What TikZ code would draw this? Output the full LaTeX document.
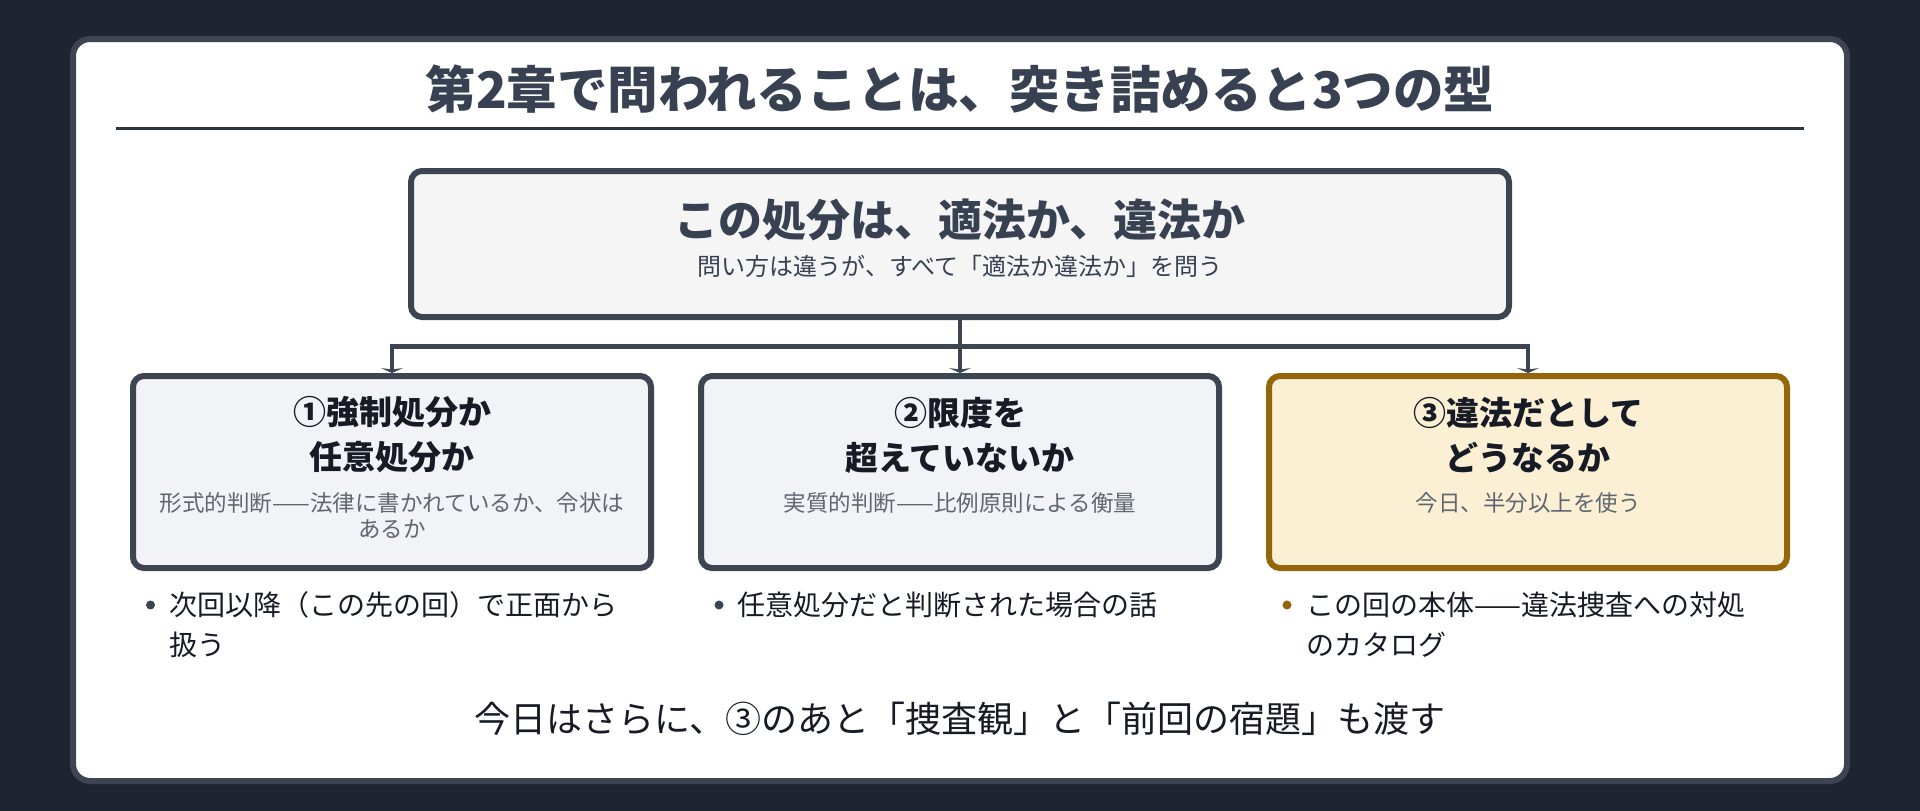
\documentclass[tikz,border=0pt]{standalone}
\usepackage{fontspec}
\setmainfont{Noto Sans CJK JP}
\usepackage{xcolor}
\usetikzlibrary{arrows.meta}
\definecolor{pagebg}{HTML}{1E2530}
\definecolor{edge}{HTML}{3D4553}
\definecolor{ink}{HTML}{374151}
\definecolor{darkink}{HTML}{161B26}
\definecolor{softink}{HTML}{5F6670}
\definecolor{qfill}{HTML}{F5F5F5}
\definecolor{bfill}{HTML}{F1F3F6}
\definecolor{hfill}{HTML}{FBEFD4}
\definecolor{hedge}{HTML}{956509}
\tikzset{box/.style={draw=edge,line width=6pt,rounded corners=11pt,fill=bfill,
           minimum width=518pt,minimum height=192pt,inner sep=0pt},
         head/.style={text=darkink,font=\bfseries\fontsize{33}{45}\selectfont,align=center,inner sep=0pt},
         sub/.style={text=softink,font=\fontsize{22.5}{26}\selectfont,align=center,inner sep=0pt},
         note/.style={text=darkink,font=\fontsize{28}{40}\selectfont,align=left,anchor=west,inner sep=0pt},
         dot/.style={circle,fill=edge,inner sep=0pt,minimum size=9pt},
         link/.style={draw=edge,line width=4.5pt}}

\begin{document}
\begin{tikzpicture}[x=1pt,y=-1pt]
\fill[pagebg] (0,0) rectangle (1920,811);
\draw[edge,line width=6pt,fill=white,rounded corners=17pt] (73,39) rectangle (1847,781);
\node[text=ink,font=\bfseries\fontsize{50.5}{60}\selectfont] (title) at (960,89) {第2章で問われることは、突き詰めると3つの型};
\draw[edge!80!black,line width=3pt] (116,128.5) -- (1804,128.5);

\node[box,fill=qfill,minimum width=1098pt,minimum height=146pt] (q) at (960,244) {};
\node[text=ink,font=\bfseries\fontsize{44}{50}\selectfont] (qhead) at (960,220) {この処分は、適法か、違法か};
\node[sub,text=ink,font=\fontsize{24}{30}\selectfont] (qsub) at (960,266) {問い方は違うが、すべて「適法か違法か」を問う};

\node[box] (b1) at (392,472) {};
\node[box] (b2) at (960,472) {};
\node[box,draw=hedge,fill=hfill] (b3) at (1528,472) {};

\coordinate (split) at (960,346.5);
\draw[link] (q.south) -- (split);
\draw[link,-{Stealth[length=5pt,width=22pt]}] (split) -| (b1.north);
\draw[link,-{Stealth[length=5pt,width=22pt]}] (split) -- (b2.north);
\draw[link,-{Stealth[length=5pt,width=22pt]}] (split) -| (b3.north);

\node[head] (h1) at (392,435) {①強制処分か\\任意処分か};
\node[head] (h2) at (960,435) {②限度を\\超えていないか};
\node[head] (h3) at (1528,435) {③違法だとして\\どうなるか};
\node[sub] (s1) at (392,516) {形式的判断——法律に書かれているか、令状は\\あるか};
\node[sub] (s2) at (960,503) {実質的判断——比例原則による衡量};
\node[sub] (s3) at (1528,503) {今日、半分以上を使う};

\node[dot] (d1) at (150.5,605) {};
\node[note] (n1) at (169,625) {次回以降（この先の回）で正面から\\扱う};
\node[dot] (d2) at (719,605) {};
\node[note] (n2) at (737,605) {任意処分だと判断された場合の話};
\node[dot,fill=hedge] (d3) at (1287,605) {};
\node[note] (n3) at (1306,625) {この回の本体——違法捜査への対処\\のカタログ};

\node[text=darkink,font=\fontsize{36}{40}\selectfont] (foot) at (960,719) {今日はさらに、③のあと「捜査観」と「前回の宿題」も渡す};
\end{tikzpicture}
\end{document}
